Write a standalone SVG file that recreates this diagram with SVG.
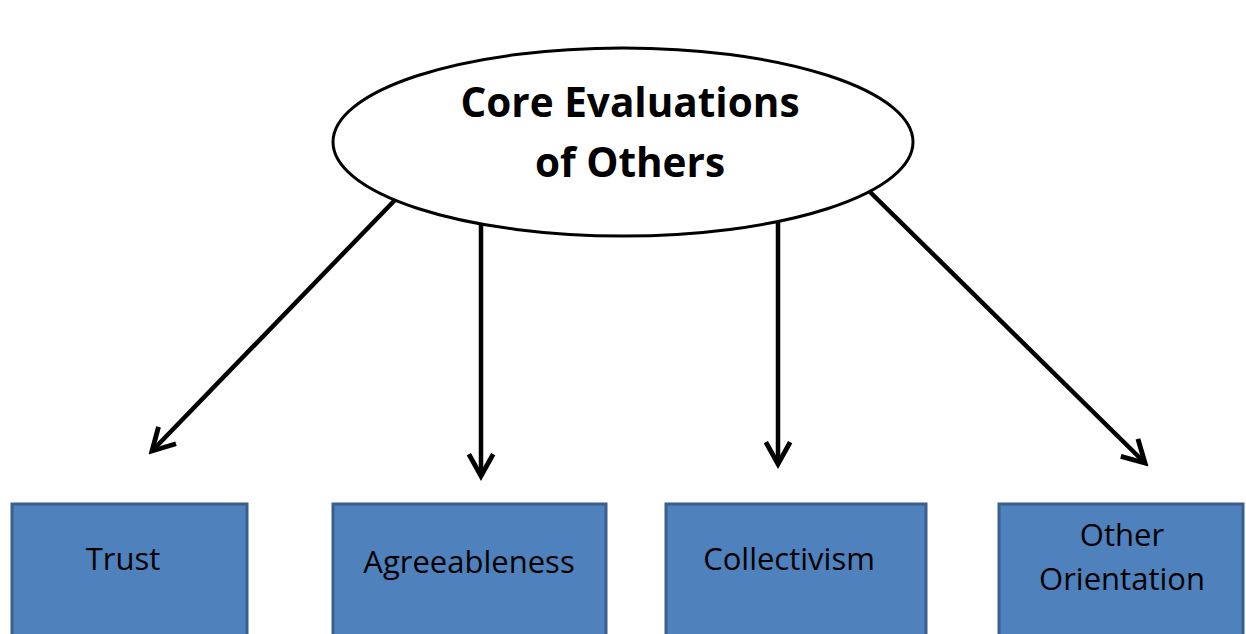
<svg xmlns="http://www.w3.org/2000/svg" width="1246" height="634" viewBox="0 0 1246 634">
  <style>
    .box { fill: #4f81bd; stroke: #3a5f8e; stroke-width: 3; }
    .lbl { font-family: "Open Sans", "Liberation Sans", sans-serif; font-size: 31px; fill: #000; text-anchor: middle; }
    .title { font-family: "Open Sans", "Liberation Sans", sans-serif; font-size: 40.5px; font-weight: bold; fill: #000; text-anchor: middle; }
    .conn { stroke: #000; stroke-width: 4.5; fill: none; marker-end: url(#head); }
  </style>
  <defs>
    <marker id="head" viewBox="0 0 12 12" refX="10" refY="6" markerWidth="6.5" markerHeight="6.5" markerUnits="strokeWidth" orient="auto">
      <path d="M1,1 L10,6 L1,11" fill="none" stroke="#000" stroke-width="2"/>
    </marker>
  </defs>
  <rect width="1246" height="634" fill="#fff"/>

  <g id="connectors">
    <line class="conn" x1="395" y1="200" x2="152" y2="451"/>
    <line class="conn" x1="481" y1="222" x2="481" y2="476"/>
    <line class="conn" x1="778" y1="222" x2="778" y2="464"/>
    <line class="conn" x1="866" y1="188" x2="1145" y2="463"/>
  </g>

  <g id="core">
    <ellipse cx="623" cy="142" rx="290" ry="94" fill="#fff" stroke="#000" stroke-width="3"/>
    <text class="title" x="630" y="117">Core Evaluations</text>
    <text class="title" x="630" y="177">of Others</text>
  </g>

  <g id="trust">
    <rect class="box" x="12" y="504" width="235" height="140"/>
    <text class="lbl" x="123" y="570">Trust</text>
  </g>

  <g id="agreeableness">
    <rect class="box" x="333" y="504" width="273" height="140"/>
    <text class="lbl" x="469" y="573">Agreeableness</text>
  </g>

  <g id="collectivism">
    <rect class="box" x="666" y="504" width="260" height="140"/>
    <text class="lbl" x="789" y="570">Collectivism</text>
  </g>

  <g id="other-orientation">
    <rect class="box" x="999" y="504" width="244" height="140"/>
    <text class="lbl" x="1122" y="546">Other</text>
    <text class="lbl" x="1122" y="590">Orientation</text>
  </g>
</svg>
